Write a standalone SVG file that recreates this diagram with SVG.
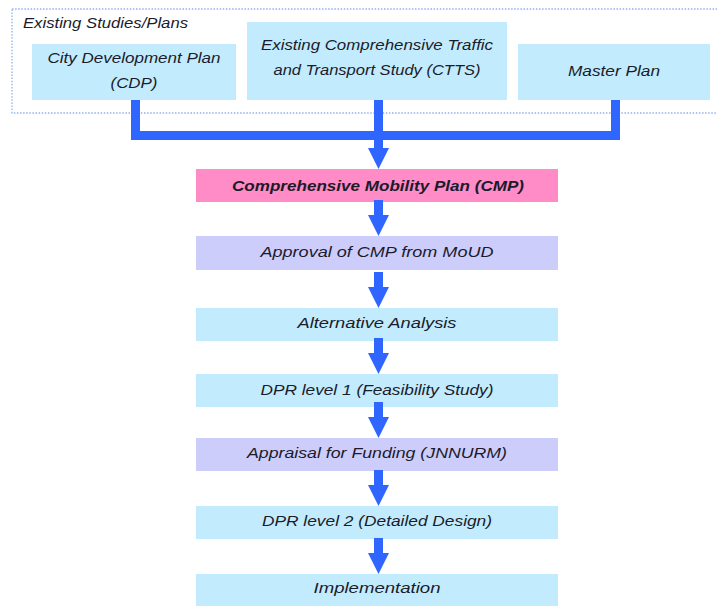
<svg xmlns="http://www.w3.org/2000/svg" width="717" height="606" viewBox="0 0 717 606">
  <style>
    .lbl { font-family: "Liberation Sans", Arial, sans-serif; font-style: italic; font-size: 15.5px; fill: #1b1b2b; text-anchor: middle; }
    .bold { font-weight: bold; }
    .blue { fill: #c2ecfd; }
    .pink { fill: #ff8cc6; }
    .lav { fill: #cdcdfc; }
    .wire { fill: #2e66ff; }
  </style>
  <defs>
    <!-- down arrow: shaft 9 wide, head 21 wide and 21 tall, tip at origin -->
    <path id="down" d="M-4.5,-36 H4.5 V-21 H10.5 L0,0 L-10.5,-21 H-4.5 Z"/>
  </defs>
  <rect width="717" height="606" fill="#ffffff"/>

  <!-- container for the existing studies -->
  <g id="existing-studies">
    <rect x="12" y="9" width="720" height="104" fill="none" stroke="#8fb2f2" stroke-width="1.3" stroke-dasharray="1.5 1.6"/>
    <text class="lbl" x="23" y="28" style="text-anchor:start" textLength="165" lengthAdjust="spacingAndGlyphs">Existing Studies/Plans</text>
  </g>

  <g id="cdp">
    <rect class="blue" x="32" y="44" width="204" height="56"/>
    <text class="lbl" x="134" y="63" textLength="173" lengthAdjust="spacingAndGlyphs">City Development Plan</text>
    <text class="lbl" x="134" y="88" textLength="47" lengthAdjust="spacingAndGlyphs">(CDP)</text>
  </g>
  <g id="ctts">
    <rect class="blue" x="247" y="22" width="260" height="78"/>
    <text class="lbl" x="377" y="50" textLength="232" lengthAdjust="spacingAndGlyphs">Existing Comprehensive Traffic</text>
    <text class="lbl" x="377" y="75" textLength="207" lengthAdjust="spacingAndGlyphs">and Transport Study (CTTS)</text>
  </g>
  <g id="master-plan">
    <rect class="blue" x="518" y="44" width="192" height="56"/>
    <text class="lbl" x="614" y="76" textLength="92" lengthAdjust="spacingAndGlyphs">Master Plan</text>
  </g>

  <g id="cmp">
    <rect class="pink" x="196" y="169" width="362" height="33"/>
    <text class="lbl bold" x="378" y="191" textLength="292" lengthAdjust="spacingAndGlyphs">Comprehensive Mobility Plan (CMP)</text>
  </g>
  <g id="approval">
    <rect class="lav" x="196" y="236" width="362" height="34"/>
    <text class="lbl" x="377" y="257" textLength="233" lengthAdjust="spacingAndGlyphs">Approval of CMP from MoUD</text>
  </g>
  <g id="alternative-analysis">
    <rect class="blue" x="196" y="308" width="362" height="33"/>
    <text class="lbl" x="377" y="328" textLength="159" lengthAdjust="spacingAndGlyphs">Alternative Analysis</text>
  </g>
  <g id="dpr-level-1">
    <rect class="blue" x="196" y="374" width="362" height="33"/>
    <text class="lbl" x="377" y="395" textLength="233" lengthAdjust="spacingAndGlyphs">DPR level 1 (Feasibility Study)</text>
  </g>
  <g id="appraisal">
    <rect class="lav" x="196" y="438" width="362" height="33"/>
    <text class="lbl" x="377" y="458" textLength="260" lengthAdjust="spacingAndGlyphs">Appraisal for Funding (JNNURM)</text>
  </g>
  <g id="dpr-level-2">
    <rect class="blue" x="196" y="506" width="362" height="33"/>
    <text class="lbl" x="377" y="526" textLength="230" lengthAdjust="spacingAndGlyphs">DPR level 2 (Detailed Design)</text>
  </g>
  <g id="implementation">
    <rect class="blue" x="196" y="574" width="362" height="32"/>
    <text class="lbl" x="377" y="593" textLength="127" lengthAdjust="spacingAndGlyphs">Implementation</text>
  </g>

  <g id="connectors" class="wire">
    <!-- merge of the three studies into the CMP -->
    <rect x="131" y="100" width="9" height="40"/>
    <rect x="611" y="100" width="9" height="40"/>
    <rect x="131" y="131" width="489" height="9"/>
    <rect x="374" y="100" width="9" height="40"/>
    <use href="#down" x="378.5" y="169"/>
    <!-- step-to-step arrows -->
    <use href="#down" x="378.5" y="236"/>
    <use href="#down" x="378.5" y="308"/>
    <use href="#down" x="378.5" y="374"/>
    <use href="#down" x="378.5" y="438"/>
    <use href="#down" x="378.5" y="506"/>
    <use href="#down" x="378.5" y="574"/>
  </g>
</svg>
